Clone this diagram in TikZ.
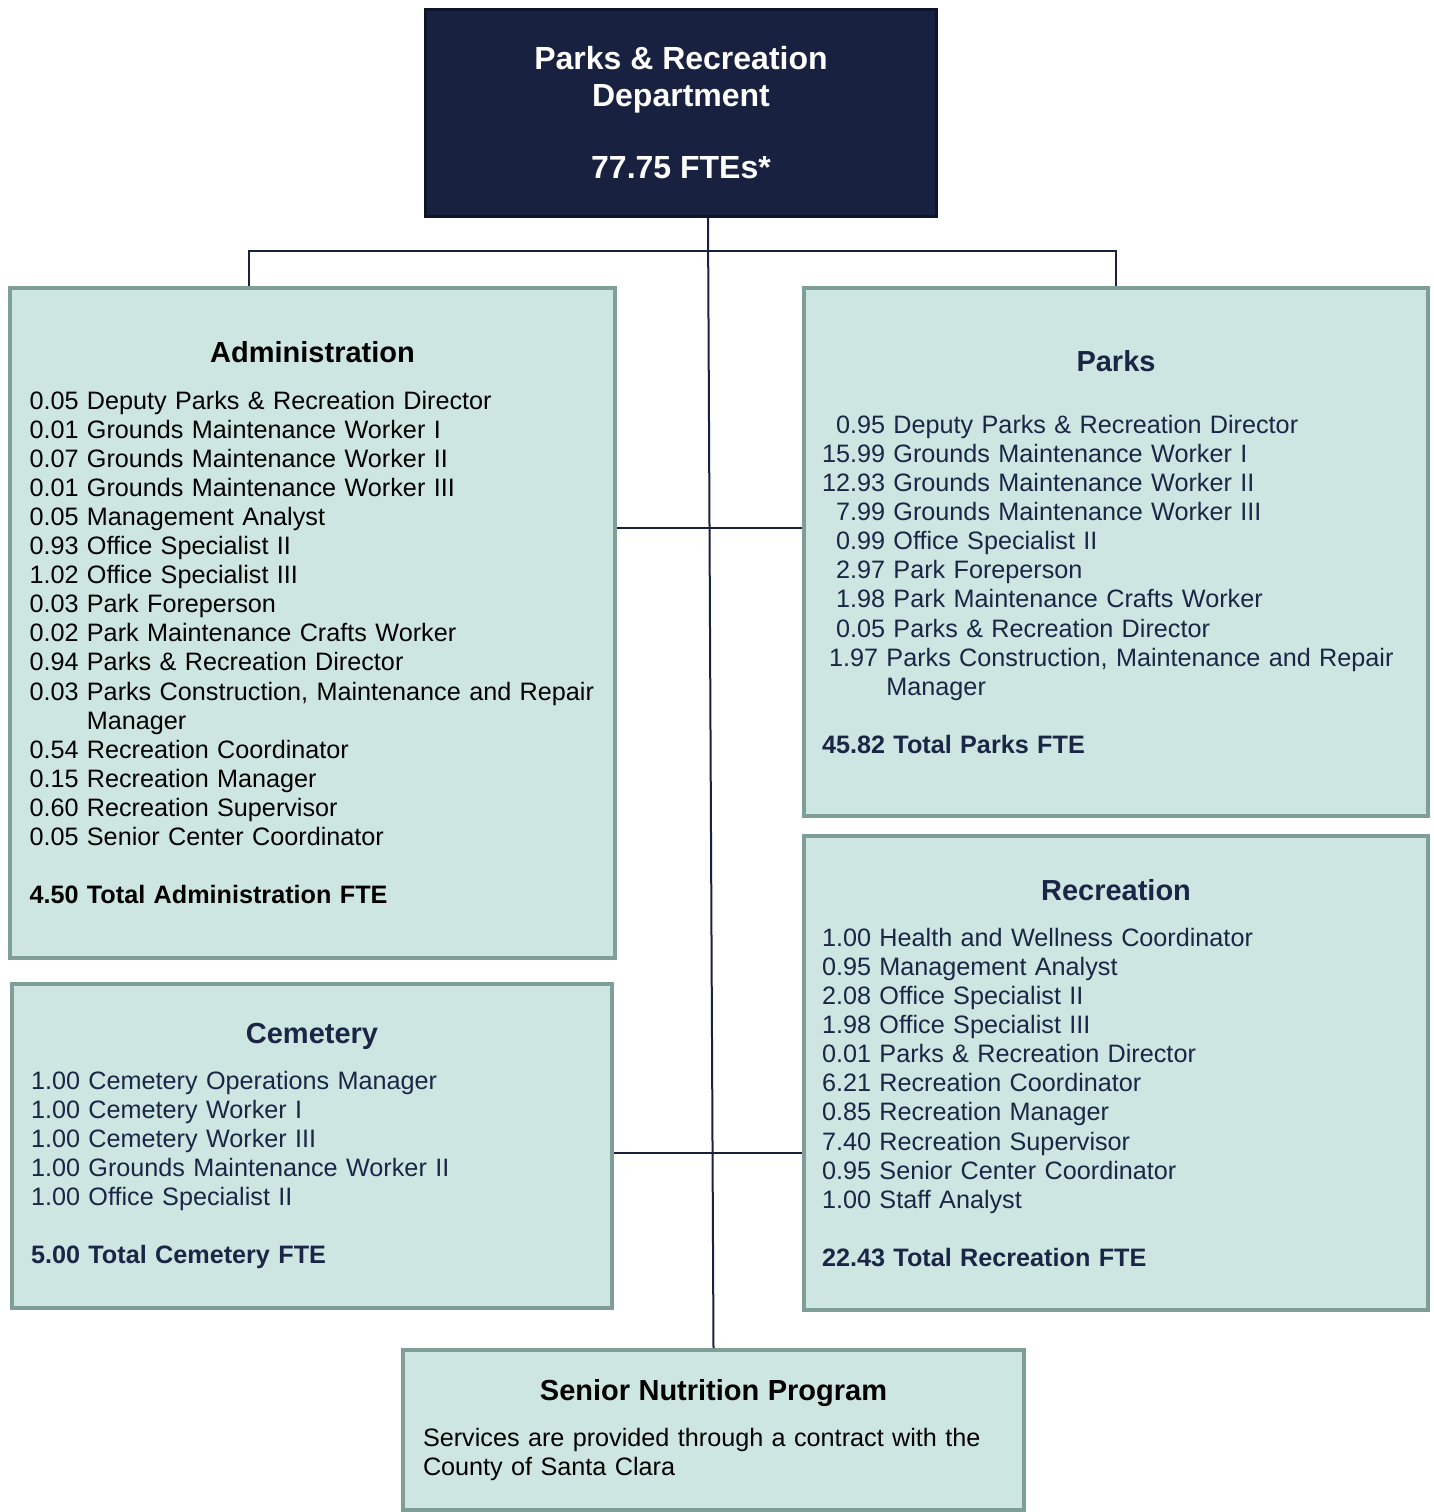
\documentclass[tikz,border=0pt]{standalone}
\usepackage{fontspec}
\setmainfont{Liberation Sans}
\usetikzlibrary{positioning}

\definecolor{navy}{HTML}{18213F}
\definecolor{deptline}{HTML}{0E152B}
\definecolor{boxfill}{HTML}{CDE6E1}
\definecolor{boxline}{HTML}{7F9E98}
\definecolor{unitink}{HTML}{1B2646}

\newcommand{\itemfont}{\fontsize{25.2}{29.1}\selectfont}
\newcommand{\titlefont}{\fontsize{29}{34}\selectfont\bfseries}
\newcommand{\unittitle}[2][17pt]{\makebox[\hsize]{\titlefont #2}\\[#1]}

\begin{document}
\begin{tikzpicture}[
    x=1pt, y=-1pt,
    dept/.style={rectangle, draw=deptline, line width=3pt, fill=navy, text=white, font=\fontsize{32}{37}\selectfont\bfseries, align=center, minimum width=511pt, minimum height=207pt},
    unit/.style={rectangle, draw=boxline, line width=4pt, fill=boxfill, font=\itemfont, align=left, inner ysep=0pt},
    link/.style={draw=navy, line width=2pt}
]
    \useasboundingbox (0,0) rectangle (1434,1512);

    \node[dept] (dept) at (681,113) {Parks \& Recreation\\Department\\[35pt]77.75 FTEs*};

    \node[unit, minimum width=605pt, minimum height=670pt, inner xsep=19.5pt, text width=566pt] (admin) at (312.5,623) {%
        \unittitle{Administration}
        0.05 Deputy Parks \& Recreation Director\\
        0.01 Grounds Maintenance Worker I\\
        0.07 Grounds Maintenance Worker II\\
        0.01 Grounds Maintenance Worker III\\
        0.05 Management Analyst\\
        0.93 Office Specialist II\\
        1.02 Office Specialist III\\
        0.03 Park Foreperson\\
        0.02 Park Maintenance Crafts Worker\\
        0.94 Parks \& Recreation Director\\
        0.03 Parks Construction, Maintenance and Repair\\
        \hphantom{0.03 }Manager\\
        0.54 Recreation Coordinator\\
        0.15 Recreation Manager\\
        0.60 Recreation Supervisor\\
        0.05 Senior Center Coordinator\\[29.1pt]
        \textbf{4.50 Total Administration FTE}};

    \node[unit, text=unitink, minimum width=624pt, minimum height=528pt, inner xsep=18pt, text width=588pt] (parks) at (1116,552) {%
        \unittitle[33pt]{Parks}
        \hphantom{0}0.95 Deputy Parks \& Recreation Director\\
        15.99 Grounds Maintenance Worker I\\
        12.93 Grounds Maintenance Worker II\\
        \hphantom{0}7.99 Grounds Maintenance Worker III\\
        \hphantom{0}0.99 Office Specialist II\\
        \hphantom{0}2.97 Park Foreperson\\
        \hphantom{0}1.98 Park Maintenance Crafts Worker\\
        \hphantom{0}0.05 Parks \& Recreation Director\\
        \hspace*{7pt}1.97 Parks Construction, Maintenance and Repair\\
        \hspace*{7pt}\hphantom{1.97 }Manager\\[29.1pt]
        \textbf{45.82 Total Parks FTE}};

    \node[unit, text=unitink, minimum width=624pt, minimum height=474pt, inner xsep=18pt, text width=588pt] (recreation) at (1116,1073) {%
        \unittitle{Recreation}
        1.00 Health and Wellness Coordinator\\
        0.95 Management Analyst\\
        2.08 Office Specialist II\\
        1.98 Office Specialist III\\
        0.01 Parks \& Recreation Director\\
        6.21 Recreation Coordinator\\
        0.85 Recreation Manager\\
        7.40 Recreation Supervisor\\
        0.95 Senior Center Coordinator\\
        1.00 Staff Analyst\\[29.1pt]
        \textbf{22.43 Total Recreation FTE}};

    \node[unit, text=unitink, minimum width=600pt, minimum height=324pt, inner xsep=19pt, text width=562pt] (cemetery) at (312,1146) {%
        \unittitle{Cemetery}
        1.00 Cemetery Operations Manager\\
        1.00 Cemetery Worker I\\
        1.00 Cemetery Worker III\\
        1.00 Grounds Maintenance Worker II\\
        1.00 Office Specialist II\\[29.1pt]
        \textbf{5.00 Total Cemetery FTE}};

    \node[unit, minimum width=621pt, minimum height=160pt, inner xsep=20pt, text width=581pt] (senior) at (713.5,1430) {%
        \unittitle{Senior Nutrition Program}
        Services are provided through a contract with the\\
        County of Santa Clara};

    \draw[link] ([xshift=27pt]dept.south) -- (senior.north);
    \draw[link] ([xshift=-64pt]admin.north) |- ([yshift=-33pt]dept.south) -| (parks.north);
    \draw[link] ([yshift=95pt]admin.east) -- ([yshift=95pt]admin.east -| parks.west);
    \draw[link] ([yshift=-7pt]cemetery.east) -- ([yshift=-7pt]cemetery.east -| recreation.west);
\end{tikzpicture}
\end{document}
